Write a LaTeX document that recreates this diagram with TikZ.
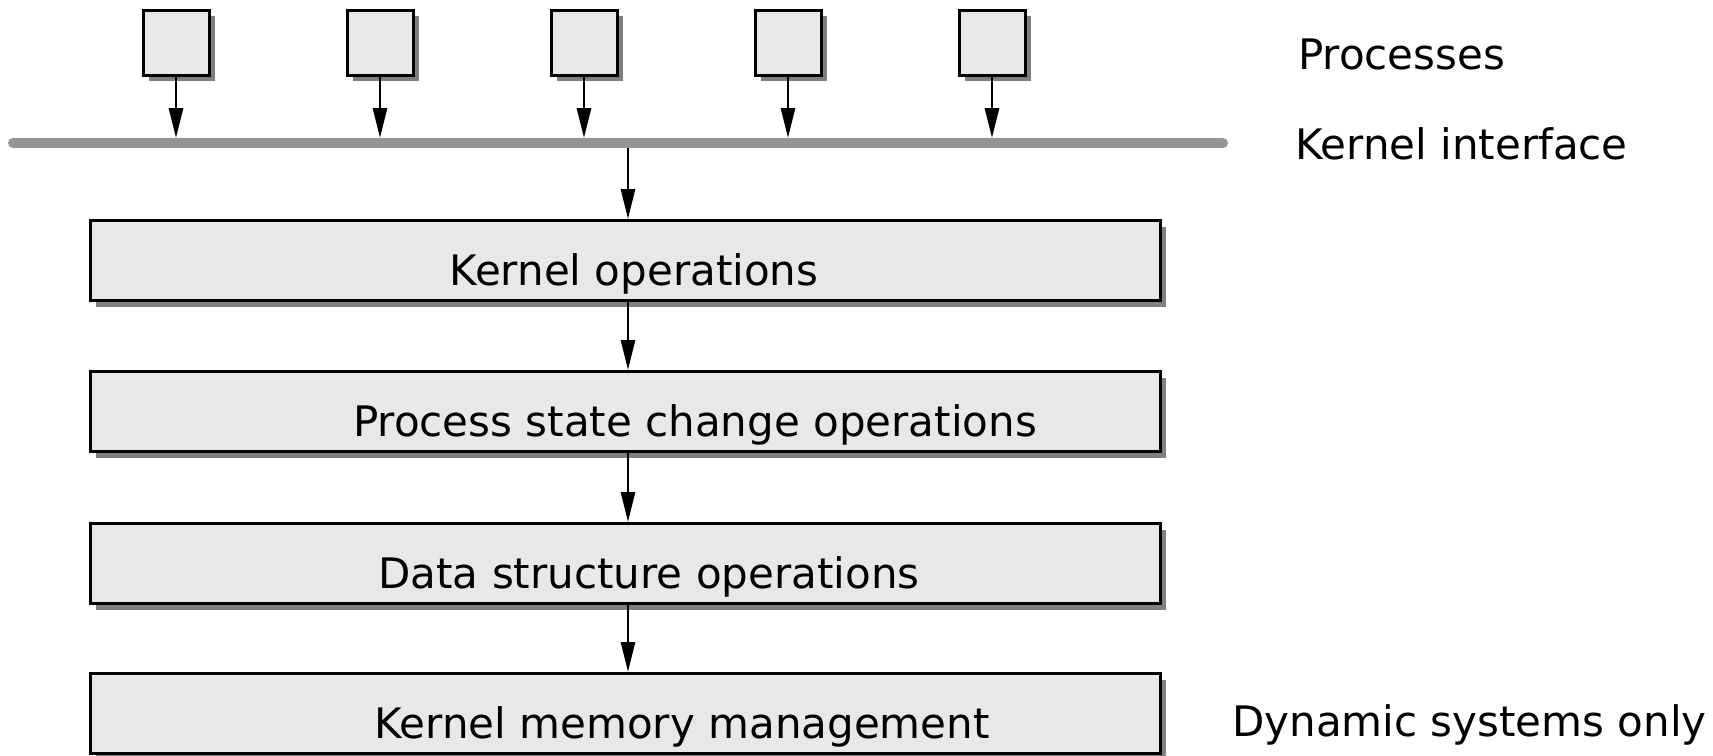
\documentclass[tikz,border=0pt]{standalone}
\usepackage{fontspec}
\setmainfont{DejaVu Sans}
\usetikzlibrary{arrows.meta}
\definecolor{boxfill}{HTML}{E8E8E8}
\definecolor{shadowgray}{HTML}{808080}
\definecolor{bargray}{HTML}{959595}
\begin{document}
\begin{tikzpicture}[x=1pt,y=-1pt,
  shadowed/.style={draw=black,line width=3pt,fill=boxfill,
    preaction={fill=shadowgray,draw=none,transform canvas={shift={(6pt,-6pt)}}}},
  procbox/.style={shadowed,minimum width=66pt,minimum height=65pt,inner sep=0pt},
  layerbox/.style={shadowed,minimum width=1070pt,minimum height=80pt,inner sep=0pt},
  conn/.style={line width=2.8pt,-{Triangle[length=30pt,width=14pt]}},
  lbl/.style={inner sep=0pt,font=\fontsize{42}{48}\selectfont},
]
\useasboundingbox (0,0) rectangle (1713,755);
% processes
\foreach \i/\x in {1/176,2/380,3/584,4/788,5/992}{
  \node[procbox] (p\i) at (\x,42.5) {};
}
% kernel interface bar
\coordinate (barL) at (13,143);
\coordinate (barR) at (1223,143);
\draw[bargray,line width=10pt,line cap=round] (barL) -- (barR);
\coordinate (barT) at (0,138);
\coordinate (barB) at (0,148);
\foreach \i in {1,...,5}{
  \draw[conn] (p\i.south) -- (p\i.south |- barT);
}
% layers
\node[layerbox] (l1) at (625,260.5) {};
\node[layerbox] (l2) at (625,411.5) {};
\node[layerbox] (l3) at (625,563.5) {};
\node[layerbox] (l4) at (625,713.5) {};
\node[lbl,anchor=base] (t1) at (634,285) {Kernel operations};
\node[lbl,anchor=base] (t2) at (695,436) {Process state change operations};
\node[lbl,anchor=base] (t3) at (649,588) {Data structure operations};
\node[lbl,anchor=base] (t4) at (682,738) {Kernel memory management};
\coordinate (mid) at (628,0);
\draw[conn] (mid |- barB) -- (mid |- l1.north);
\draw[conn] (mid |- l1.south) -- (mid |- l2.north);
\draw[conn] (mid |- l2.south) -- (mid |- l3.north);
\draw[conn] (mid |- l3.south) -- (mid |- l4.north);
% right labels
\node[lbl,anchor=base west] (rp) at (1298,69) {Processes};
\node[lbl,anchor=base west] (rk) at (1295,159) {Kernel interface};
\node[lbl,anchor=base west] (rd) at (1232,736) {Dynamic systems only};
\end{tikzpicture}
\end{document}
